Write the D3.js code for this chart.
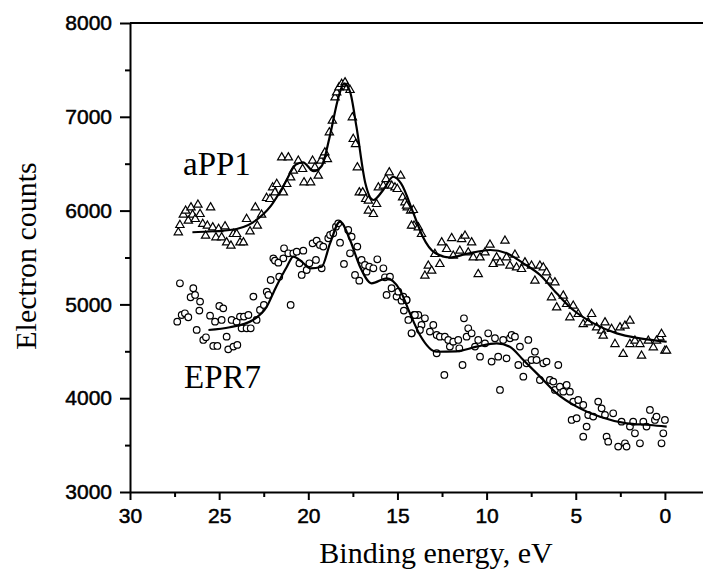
<!DOCTYPE html>
<html>
<head>
    <meta charset="utf-8" />
    <style>
        body { margin: 0; background: #fff; }
        svg { display: block; }
        .tick text { font-family: "Liberation Sans", Arial, sans-serif; font-size: 21px; fill: #000; stroke: #000; stroke-width: 0.5; }
        .axis path, .axis line { stroke: #000; stroke-width: 2; }
        text.title { font-family: "Liberation Serif", "Times New Roman", serif; font-size: 30px; fill: #000; }
        text.label { font-family: "Liberation Serif", "Times New Roman", serif; font-size: 33px; fill: #000; }
        path.fit { fill: none; stroke: #000; stroke-width: 2.2; }
        .pt { fill: #fff; stroke: #000; stroke-width: 1.2; }
    </style>
    <script src="https://d3js.org/d3.v7.min.js"></script>
</head>
<body>
<script>

// aPP1 measured points (triangles)
let aPP1Energy = [27.29, 27.2, 27.01, 26.88, 26.73, 26.58, 26.49, 26.34, 26.19, 26.07, 25.92, 25.76, 25.66, 25.48, 25.36, 25.18, 25.03, 24.86, 24.67, 24.58,
    24.34, 24.2, 24.02, 23.83, 23.64, 23.46, 23.27, 22.97, 22.86, 22.62, 22.34, 22.15, 22.0, 21.87, 21.77, 21.4, 21.21, 21.49, 21.12, 20.99,
    20.84, 20.56, 20.32, 20.24, 19.87, 19.76, 19.63, 19.44, 19.29, 19.16, 19.07, 18.93, 18.82, 18.65, 18.5, 18.41, 18.28, 18.13, 17.94, 17.81,
    17.66, 17.53, 17.48, 17.35, 17.25, 17.14, 16.95, 16.78, 16.63, 16.63, 16.35, 16.17, 16.07, 15.79, 15.64, 15.46, 15.32, 15.14, 15.01, 14.82,
    14.71, 14.58, 14.45, 14.26, 14.07, 14.49, 14.11, 14.21, 13.83, 13.65, 12.9, 13.27, 13.08, 13.46, 12.52, 12.62, 12.24, 11.96, 11.4, 11.21,
    10.84, 11.87, 11.5, 11.03, 10.75, 10.47, 10.37, 10.09, 9.81, 9.63, 9.44, 9.25, 8.97, 8.88, 8.69, 8.41, 8.32, 8.04, 7.85, 7.48,
    7.29, 7.01, 6.82, 6.64, 6.45, 6.17, 6.36, 6.07, 5.7, 5.51, 5.14, 5.33, 4.86, 4.58, 4.11, 4.3, 3.83, 3.55, 3.36, 3.46,
    2.99, 2.8, 2.52, 2.24, 1.96, 2.34, 1.96, 1.68, 1.4, 1.31, 0.93, 0.65, 0.28, 0.19, 0.0, -0.09, 0.47];
let aPP1Counts = [5776, 5854, 5964, 6007, 5900, 6042, 5964, 5918, 6071, 5971, 5865, 5740, 5847, 6042, 5829, 5723, 5811, 5723, 5840, 5669,
    5634, 5758, 5758, 5669, 5669, 5918, 5786, 6042, 5847, 5964, 6142, 6131, 6255, 6202, 6291, 6202, 6291, 6575, 6575, 6362,
    6433, 6540, 6451, 6309, 6309, 6540, 6469, 6380, 6540, 6593, 6628, 6557, 6842, 6966, 7215, 7268, 7321, 7357, 7375, 7321,
    7293, 7002, 6771, 6717, 6469, 6202, 6202, 6131, 6113, 6007, 5971, 6078, 6255, 6273, 6344, 6415, 6273, 6255, 6238, 6380,
    6149, 6096, 6042, 6007, 5847, 6060, 6014, 5847, 5829, 5758, 5545, 5420, 5367, 5314, 5669, 5438, 5598, 5715, 5704, 5740,
    5669, 5527, 5580, 5562, 5509, 5331, 5509, 5562, 5644, 5438, 5509, 5456, 5687, 5509, 5420, 5537, 5402, 5385, 5456, 5420,
    5260, 5420, 5402, 5349, 5260, 5243, 5083, 4976, 5101, 5012, 4994, 4870, 4905, 4798, 4905, 4816, 4763, 4727, 4816, 4674,
    4745, 4585, 4763, 4781, 4834, 4479, 4585, 4621, 4585, 4461, 4621, 4550, 4656, 4692, 4514, 4514, 4621];

// EPR7 measured points (circles)
let epr7Energy = [27.2, 27.35, 27.1, 26.92, 26.73, 26.6, 26.45, 26.35, 26.07, 26.11, 26.26, 25.89, 25.74, 25.51, 25.33, 25.1, 25.23, 24.99, 24.77, 24.86,
    24.58, 24.49, 24.2, 23.98, 24.3, 24.02, 23.83, 23.61, 23.36, 23.74, 23.46, 23.23, 23.08, 22.9, 22.71, 22.49, 22.33, 22.24, 22.11, 21.96,
    21.87, 21.68, 21.63, 21.4, 21.36, 21.12, 20.99, 20.84, 20.65, 20.5, 20.28, 20.37, 20.09, 19.94, 19.76, 19.53, 19.57, 19.35, 19.16, 19.25,
    18.88, 18.78, 18.6, 18.45, 18.32, 18.22, 18.0, 17.76, 17.66, 17.57, 17.38, 17.25, 17.14, 17.01, 16.82, 16.73, 16.58, 16.35, 16.13, 15.79,
    15.7, 15.61, 15.42, 15.33, 15.05, 14.95, 14.77, 14.49, 14.64, 14.39, 14.2, 14.07, 13.83,
    14.67, 14.49, 14.21, 14.02, 13.65, 13.74, 13.46, 13.18, 12.99, 12.8, 12.8, 12.62, 12.34, 12.37, 12.15, 12.06, 11.87, 11.59, 11.53, 11.35,
    11.27, 11.12, 11.03, 10.84, 10.65, 10.47, 10.37, 10.09, 9.91, 9.72, 9.53, 9.35, 9.25, 9.07, 8.88, 8.69, 8.6, 8.41, 8.22, 8.13,
    7.94, 7.76, 7.66, 7.48, 7.29, 7.2, 7.01, 6.82, 6.64, 6.45, 6.26, 6.17, 5.98, 5.89, 5.7, 5.51, 5.33, 5.14, 5.23, 4.95,
    4.86, 4.58, 4.58, 4.39, 4.3, 4.02, 3.74, 3.55, 3.36, 3.27, 3.18, 2.9, 2.62, 2.43, 2.24, 2.15, 1.96, 1.78, 1.68, 1.4,
    1.21, 1.03, 0.84, 0.56, 0.47, 0.19, 0.09, 0.0];
let epr7Counts = [5225, 4816, 4887, 4905, 4863, 5076, 5172, 5101, 5030, 4934, 4728, 4621, 4649, 4880, 4557, 4557, 4816, 4983, 4958, 4834,
    4656, 4521, 4550, 4568, 4834, 4816, 4870, 4870, 4887, 4745, 4745, 4745, 5083, 4834, 4941, 4994, 5136, 5101, 5260, 5491,
    5467, 5445, 5296, 5491, 5598, 5545, 4994, 5545, 5562, 5438, 5573, 5314, 5367, 5438, 5651, 5680, 5474, 5634, 5616, 5385,
    5705, 5740, 5758, 5829, 5864, 5658, 5431, 5793, 5545, 5722, 5314, 5616, 5253, 5474, 5420, 5349, 5403, 5385, 5481, 5385,
    5289, 5101, 5296, 5172, 5083, 5136, 5040, 5047, 4934, 4834, 4692, 4887, 4887,
    5083, 5047, 4692, 4887, 4781, 4727, 4852, 4710, 4781, 4674, 4479, 4656, 4656, 4248, 4621, 4550, 4603, 4621, 4532, 4354,
    4852, 4656, 4745, 4692, 4550, 4621, 4443, 4585, 4692, 4390, 4639, 4443, 4088, 4621, 4425, 4639, 4674, 4656, 4354, 4550,
    4230, 4372, 4621, 4407, 4496, 4407, 4194, 4372, 4390, 4194, 4177, 4088, 4354, 4123, 4070, 4141, 4070, 3964, 3768, 3786,
    3981, 3928, 3590, 3697, 3821, 3804, 3964, 3892, 3821, 3590, 3537, 3839, 3484, 3750, 3519, 3484, 3697, 3750, 3626, 3519,
    3750, 3697, 3875, 3768, 3804, 3519, 3626, 3768];

// fitted curves
let aPP1FitE = [26.5, 24.4, 23.1, 22.1, 21.4, 20.7, 20.3, 19.7, 19.25, 18.8, 18.3, 18.0, 17.66, 17.3, 16.8, 16.35, 15.8, 15.24, 14.8, 14.1,
    13.6, 12.9, 12.05, 11.1, 9.8, 8.87, 7.94, 7.0, 6.07, 5.14, 4.0, 2.7, 1.4, -0.1];
let aPP1FitC = [5769, 5793, 5875, 6050, 6260, 6490, 6515, 6420, 6475, 6788, 7214, 7357, 7268, 6895, 6291, 6113, 6220, 6361, 6291, 5971,
    5730, 5550, 5500, 5540, 5580, 5545, 5438, 5313, 5118, 4940, 4798, 4691, 4638, 4602];
let epr7FitE = [25.6, 24.4, 23.1, 22.33, 21.8, 21.2, 20.84, 20.37, 19.9, 19.25, 18.78, 18.22, 17.66, 17.1, 16.45, 15.6, 14.86, 14.3, 13.74,
    12.8, 11.7, 10.56, 9.44, 8.7, 7.94, 7.0, 6.07, 4.95, 3.64, 2.14, 0.84, -0.1];
let epr7FitC = [4727, 4756, 4834, 4976, 5189, 5402, 5509, 5455, 5385, 5402, 5651, 5882, 5687, 5402, 5225, 5278, 5154, 4905, 4674,
    4495, 4500, 4549, 4585, 4549, 4407, 4230, 4052, 3910, 3803, 3732, 3714, 3696];

let xTicks = [30, 25, 20, 15, 10, 5, 0];
let yTicks = [3000, 4000, 5000, 6000, 7000, 8000];

let W = 703, H = 571;
let x0 = 130, yTop = 23, yBot = 492;

let svg = d3.select("body").append("svg")
    .attr("width", W)
    .attr("height", H);

let xScale = d3.scaleLinear().domain([30, -3]).range([x0, x0 + 33 * 17.83]);
let yScale = d3.scaleLinear().domain([3000, 8000]).range([yBot, yTop]);

// top frame line
svg.append("line")
    .attr("x1", x0).attr("x2", W + 10)
    .attr("y1", yTop).attr("y2", yTop)
    .attr("stroke", "#000").attr("stroke-width", 2.2);

// minor ticks
let xMinor = [27.5, 22.5, 17.5, 12.5, 7.5, 2.5, -2.5];
let yMinor = [3500, 4500, 5500, 6500, 7500];

svg.append("g")
    .attr("class", "axis")
    .attr("transform", "translate(0," + yBot + ")")
    .call(d3.axisBottom(xScale).tickValues(xMinor).tickSize(5).tickFormat(""))
    .select(".domain").remove();

svg.append("g")
    .attr("class", "axis")
    .attr("transform", "translate(" + x0 + ",0)")
    .call(d3.axisLeft(yScale).tickValues(yMinor).tickSize(5).tickFormat(""))
    .select(".domain").remove();

//Create X axis
svg.append("g")
    .attr("class", "axis")
    .attr("transform", "translate(0," + yBot + ")")
    .call(d3.axisBottom(xScale).tickValues(xTicks).tickSize(8).tickSizeOuter(0).tickPadding(8).tickFormat(d3.format("d")));

//Create Y axis
svg.append("g")
    .attr("class", "axis")
    .attr("transform", "translate(" + x0 + ",0)")
    .call(d3.axisLeft(yScale).tickValues(yTicks).tickSize(10).tickSizeOuter(0).tickPadding(8).tickFormat(d3.format("d")));

// points
let aPP1 = aPP1Energy.map((e, i) => ({ e: e, c: aPP1Counts[i] }));
let epr7 = epr7Energy.map((e, i) => ({ e: e, c: epr7Counts[i] }));

svg.append("g").selectAll("path")
    .data(aPP1)
    .enter()
    .append("path")
    .attr("class", "pt")
    .attr("d", d3.symbol(d3.symbolTriangle, 30))
    .attr("transform", d => "translate(" + xScale(d.e) + "," + (yScale(d.c) + 0.8) + ")");

svg.append("g").selectAll("circle")
    .data(epr7)
    .enter()
    .append("circle")
    .attr("class", "pt")
    .attr("cx", d => xScale(d.e))
    .attr("cy", d => yScale(d.c))
    .attr("r", 3.3);

// fitted lines
let line = d3.line()
    .x(d => xScale(d[0]))
    .y(d => yScale(d[1]))
    .curve(d3.curveMonotoneX);

svg.append("path")
    .attr("class", "fit")
    .attr("d", line(aPP1FitE.map((e, i) => [e, aPP1FitC[i]])));

svg.append("path")
    .attr("class", "fit")
    .attr("d", line(epr7FitE.map((e, i) => [e, epr7FitC[i]])));

// labels
svg.append("text")
    .attr("class", "label")
    .attr("x", 183).attr("y", 175)
    .text("aPP1");

svg.append("text")
    .attr("class", "label")
    .attr("x", 184).attr("y", 388)
    .text("EPR7");

svg.append("text")
    .attr("class", "title")
    .attr("x", 436).attr("y", 563)
    .attr("text-anchor", "middle")
    .text("Binding energy, eV");

svg.append("text")
    .attr("class", "title")
    .attr("transform", "translate(36,256) rotate(-90)")
    .attr("text-anchor", "middle")
    .text("Electron counts");

</script>
</body>
</html>
